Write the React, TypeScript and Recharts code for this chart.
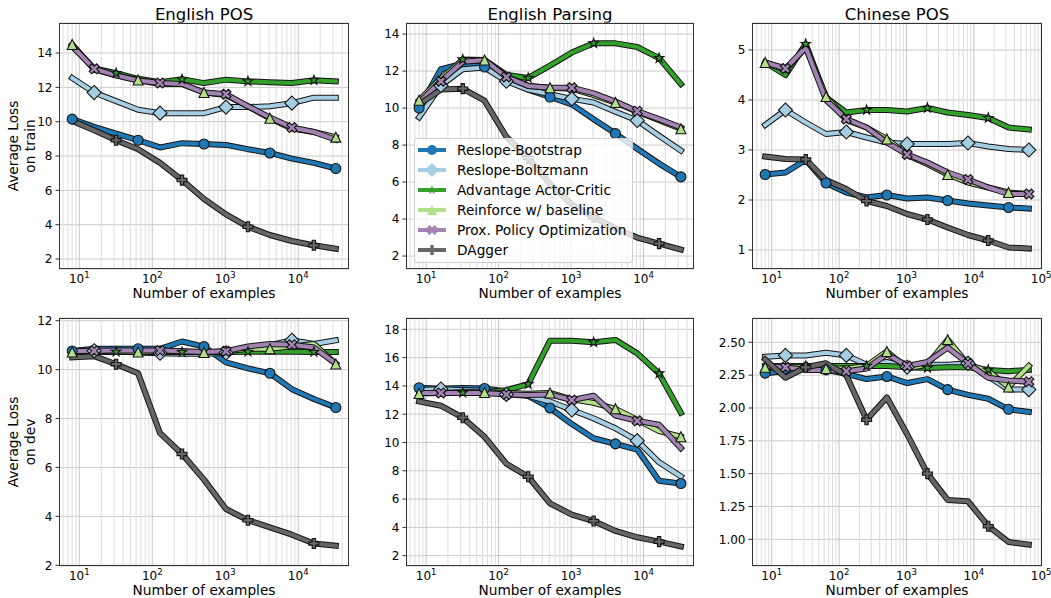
import React from 'react';
import { LineChart, Line, XAxis, YAxis, CartesianGrid, ReferenceLine } from 'recharts';

const FONT = '"DejaVu Sans", sans-serif';

// ---------------- data ----------------
const xEnglish = [8, 16, 32, 64, 128, 256, 512, 1024, 2048, 4096, 8192, 16384, 32768];
const xChinese = [8, 16, 32, 64, 128, 256, 512, 1024, 2048, 4096, 8192, 16384, 32768, 65536];

const seriesNames = [
  'Reslope-Bootstrap',
  'Reslope-Boltzmann',
  'Advantage Actor-Critic',
  'Reinforce w/ baseline',
  'Prox. Policy Optimization',
  'DAgger',
];

// English POS - train
const posTrainBoot = [10.15, 9.7, 9.3, 8.92, 8.5, 8.75, 8.7, 8.65, 8.4, 8.18, 7.85, 7.6, 7.27];
const posTrainBoltz = [12.55, 11.7, 11.2, 10.7, 10.5, 10.5, 10.5, 10.85, 10.85, 10.9, 11.08, 11.4, 11.4];
const posTrainA2c = [14.4, 13.1, 12.83, 12.5, 12.3, 12.47, 12.25, 12.45, 12.35, 12.3, 12.25, 12.42, 12.35];
const posTrainReinf = [14.5, 13.05, 12.7, 12.43, 12.2, 12.2, 11.7, 11.55, 10.9, 10.2, 9.6, 9.4, 9.1];
const posTrainPpo = [14.4, 13.08, 12.7, 12.4, 12.25, 12.2, 11.7, 11.6, 10.9, 10.25, 9.66, 9.4, 8.95];
const posTrainDagger = [10.05, 9.5, 8.92, 8.4, 7.6, 6.6, 5.5, 4.6, 3.88, 3.4, 3.05, 2.8, 2.6];

// English Parsing - train
const parseTrainBoot = [10.0, 12.1, 12.4, 12.22, 11.5, 11.0, 10.6, 10.2, 9.4, 8.62, 7.8, 7.0, 6.28];
const parseTrainBoltz = [9.5, 11.22, 12.1, 12.2, 11.45, 11.0, 10.75, 10.5, 10.3, 9.8, 9.33, 8.5, 7.7];
const parseTrainA2c = [10.4, 11.5, 12.63, 12.6, 11.8, 11.63, 12.3, 13.0, 13.5, 13.5, 13.3, 12.7, 11.3];
const parseTrainReinf = [10.42, 11.6, 12.6, 12.6, 11.7, 11.2, 11.1, 11.05, 10.7, 10.3, 9.8, 9.35, 8.88];
const parseTrainPpo = [10.3, 11.45, 12.5, 12.6, 11.68, 11.2, 11.1, 11.1, 10.8, 10.35, 9.83, 9.4, 8.95];
const parseTrainDagger = [10.2, 11.0, 11.05, 10.4, 8.45, 7.3, 5.9, 4.8, 4.1, 3.5, 3.0, 2.67, 2.35];

// Chinese POS - train
const zhTrainBoot = [2.51, 2.55, 2.8, 2.34, 2.15, 2.05, 2.1, 2.03, 2.05, 1.99, 1.93, 1.89, 1.85, 1.83];
const zhTrainBoltz = [3.5, 3.8, 3.55, 3.32, 3.36, 3.25, 3.15, 3.12, 3.12, 3.12, 3.14, 3.07, 3.02, 3.0];
const zhTrainA2c = [4.75, 4.5, 5.12, 4.05, 3.75, 3.8, 3.8, 3.77, 3.84, 3.75, 3.7, 3.64, 3.45, 3.41];
const zhTrainReinf = [4.75, 4.6, 5.05, 4.07, 3.6, 3.45, 3.22, 2.9, 2.72, 2.51, 2.35, 2.25, 2.15, 2.12];
const zhTrainPpo = [4.75, 4.63, 5.05, 4.0, 3.62, 3.45, 3.15, 2.91, 2.75, 2.55, 2.41, 2.25, 2.12, 2.12];
const zhTrainDagger = [2.87, 2.82, 2.81, 2.4, 2.22, 1.98, 1.88, 1.72, 1.61, 1.45, 1.3, 1.19, 1.05, 1.03];

// English POS - dev
const posDevBoot = [10.76, 10.85, 10.85, 10.85, 10.85, 11.15, 10.94, 10.3, 10.05, 9.85, 9.2, 8.8, 8.45];
const posDevBoltz = [10.75, 10.77, 10.75, 10.7, 10.67, 10.65, 10.65, 10.68, 10.85, 11.0, 11.2, 11.05, 11.2];
const posDevA2c = [10.72, 10.72, 10.73, 10.72, 10.72, 10.72, 10.72, 10.72, 10.73, 10.73, 10.73, 10.72, 10.72];
const posDevReinf = [10.72, 10.75, 10.75, 10.72, 10.75, 10.75, 10.7, 10.75, 10.85, 10.85, 10.95, 11.05, 10.23];
const posDevPpo = [10.75, 10.77, 10.78, 10.78, 10.78, 10.75, 10.72, 10.75, 10.95, 11.05, 11.02, 10.9, 10.25];
const posDevDagger = [10.5, 10.55, 10.22, 9.85, 7.4, 6.55, 5.5, 4.3, 3.84, 3.55, 3.25, 2.89, 2.8];

// English Parsing - dev
const parseDevBoot = [13.87, 13.8, 13.85, 13.82, 13.6, 13.3, 12.44, 11.3, 10.3, 9.9, 9.5, 7.3, 7.1];
const parseDevBoltz = [13.7, 13.78, 13.7, 13.65, 13.4, 13.3, 12.9, 12.3, 11.7, 11.0, 10.13, 8.6, 7.6];
const parseDevA2c = [13.5, 13.5, 13.52, 13.55, 13.7, 14.12, 17.2, 17.2, 17.08, 17.25, 16.3, 14.88, 12.1];
const parseDevReinf = [13.46, 13.5, 13.55, 13.53, 13.5, 13.45, 13.5, 13.05, 12.8, 12.38, 11.6, 10.8, 10.41];
const parseDevPpo = [13.5, 13.5, 13.5, 13.5, 13.4, 13.35, 13.4, 13.0, 13.3, 11.9, 11.53, 11.25, 9.6];
const parseDevDagger = [12.9, 12.6, 11.75, 10.4, 8.5, 7.58, 5.7, 4.9, 4.45, 3.75, 3.3, 2.99, 2.65];

// Chinese POS - dev
const zhDevBoot = [2.265, 2.28, 2.3, 2.29, 2.26, 2.22, 2.24, 2.19, 2.22, 2.14, 2.1, 2.07, 1.99, 1.97];
const zhDevBoltz = [2.39, 2.4, 2.4, 2.42, 2.4, 2.33, 2.35, 2.31, 2.33, 2.33, 2.34, 2.24, 2.14, 2.14];
const zhDevA2c = [2.32, 2.32, 2.32, 2.32, 2.32, 2.32, 2.32, 2.31, 2.305, 2.31, 2.31, 2.29, 2.28, 2.29];
const zhDevReinf = [2.31, 2.31, 2.31, 2.3, 2.3, 2.32, 2.43, 2.3, 2.33, 2.52, 2.33, 2.28, 2.16, 2.32];
const zhDevPpo = [2.32, 2.31, 2.29, 2.29, 2.28, 2.3, 2.41, 2.32, 2.35, 2.46, 2.34, 2.23, 2.21, 2.2];
const zhDevDagger = [2.37, 2.23, 2.31, 2.34, 2.25, 1.91, 2.08, 1.8, 1.5, 1.3, 1.29, 1.1, 0.98, 0.96];

// tick values
const ticksEvenTo14 = [2, 4, 6, 8, 10, 12, 14];
const ticksZhTrain = [1, 2, 3, 4, 5];
const ticksPosDev = [2, 4, 6, 8, 10, 12];
const ticksParseDev = [2, 4, 6, 8, 10, 12, 14, 16, 18];
const ticksZhDev = [1.0, 1.25, 1.5, 1.75, 2.0, 2.25, 2.5];
const xTicksEnglish = [10, 100, 1000, 10000];
const xTicksChinese = [10, 100, 1000, 10000, 100000];

// ---------------- styles ----------------
const seriesColors = ['#1f78b4', '#a6cee3', '#33a02c', '#b2df8a', '#a283b1', '#666666'];
const markerShapes = ['circle', 'diamond', 'star', 'triangle', 'xfill', 'plusfill'];
const markerOffsets = [0, 1, 2, 0, 1, 2];
const OUTLINE = '#141414';

const logDomain = (lo: number, hi: number): [number, number] => {
  const a = Math.log10(lo);
  const b = Math.log10(hi);
  const m = (b - a) * 0.05;
  return [Math.pow(10, a - m), Math.pow(10, b + m)];
};

function polyPath(pts: number[][], cx: number, cy: number) {
  return pts.map((p, i) => `${i ? 'L' : 'M'}${(cx + p[0]).toFixed(2)},${(cy + p[1]).toFixed(2)}`).join('') + 'Z';
}

function Marker({ shape, cx, cy, fill, stroke, sw, size }: any) {
  const s = size;
  if (shape === 'circle') return <circle cx={cx} cy={cy} r={s / 2} fill={fill} stroke={stroke} strokeWidth={sw} />;
  let pts: number[][] = [];
  if (shape === 'diamond') {
    const d = s * 0.7071;
    pts = [[0, -d], [d, 0], [0, d], [-d, 0]];
  } else if (shape === 'triangle') {
    const h = s / 2;
    pts = [[0, -h], [h, h], [-h, h]];
  } else if (shape === 'star') {
    const R = s / 2;
    for (let i = 0; i < 10; i++) {
      const r = i % 2 === 0 ? R : R * 0.381966;
      const a = -Math.PI / 2 + (i * Math.PI) / 5;
      pts.push([r * Math.cos(a), r * Math.sin(a)]);
    }
  } else if (shape === 'xfill') {
    const raw = [[-1, -2], [0, -1], [1, -2], [2, -1], [1, 0], [2, 1], [1, 2], [0, 1], [-1, 2], [-2, 1], [-1, 0], [-2, -1]];
    pts = raw.map((p) => [(p[0] / 4) * s, (p[1] / 4) * s]);
  } else if (shape === 'plusfill') {
    const raw = [[-1, -3], [1, -3], [1, -1], [3, -1], [3, 1], [1, 1], [1, 3], [-1, 3], [-1, 1], [-3, 1], [-3, -1], [-1, -1]];
    pts = raw.map((p) => [(p[0] / 6) * s, (p[1] / 6) * s]);
  }
  return <path d={polyPath(pts, cx, cy)} fill={fill} stroke={stroke} strokeWidth={sw} strokeLinejoin="miter" />;
}

const makeDot = (si: number) => (props: any) => {
  const { cx, cy, index } = props;
  const key = `dot-${si}-${index}`;
  if (cx == null || cy == null || index % 3 !== markerOffsets[si]) return <g key={key} />;
  return (
    <g key={key}>
      <Marker shape={markerShapes[si]} cx={cx} cy={cy} fill={seriesColors[si]} stroke={OUTLINE} sw={1.1} size={10} />
    </g>
  );
};

const XTick = (props: any) => {
  const { x, y, payload } = props;
  const e = Math.round(Math.log10(payload.value));
  return (
    <text x={x} y={y + 14} textAnchor="middle" fontFamily={FONT} fontSize={12} fill="#000">
      <tspan>10</tspan>
      <tspan dy={-5.5} fontSize={8.5}>{e}</tspan>
    </text>
  );
};

const makeYTick = (dec: number) => (props: any) => {
  const { x, y, payload } = props;
  return (
    <text x={x - 3} y={y} dy="0.36em" textAnchor="end" fontFamily={FONT} fontSize={12} fill="#000">
      {Number(payload.value).toFixed(dec)}
    </text>
  );
};

type PanelDef = {
  px: number; py: number; pw: number; ph: number;
  xs: number[]; series: number[][];
  yDomain: [number, number]; yTicks: number[]; yDec: number;
  xTicks: number[];
};

const L = 50, T = 10, R = 10, B = 30;

function Panel({ def }: { def: PanelDef }) {
  const { px, py, pw, ph, xs, series, yDomain, yTicks, yDec, xTicks } = def;
  const xDomain = logDomain(xs[0], xs[xs.length - 1]);
  const rows = xs.map((x, i) => {
    const r: any = { x };
    series.forEach((s, si) => { r[`s${si}`] = s[i]; });
    return r;
  });
  const minor: number[] = [];
  const major: number[] = [];
  for (let d = 0; d <= 5; d++) {
    for (let k = 1; k <= 9; k++) {
      const v = k * Math.pow(10, d);
      if (v > xDomain[0] && v < xDomain[1]) (k === 1 ? major : minor).push(v);
    }
  }
  return (
    <div style={{ position: 'absolute', left: px - L, top: py - T }}>
      <LineChart width={pw + L + R} height={ph + T + B} data={rows} margin={{ top: T, right: R, bottom: 0, left: 0 }}>
        <CartesianGrid vertical={false} stroke="#cbcbcb" strokeWidth={1} />
        {minor.map((v) => (
          <ReferenceLine key={`mn${v}`} x={v} stroke="#dcdcdc" strokeWidth={1} />
        ))}
        {major.map((v) => (
          <ReferenceLine key={`mj${v}`} x={v} stroke="#c6c6c6" strokeWidth={1} />
        ))}
        <XAxis
          dataKey="x" type="number" scale="log" domain={xDomain} allowDataOverflow ticks={xTicks} interval={0}
          height={B} tickSize={0} tickMargin={0} axisLine={false} tickLine={false} tick={XTick}
        />
        <YAxis
          type="number" domain={yDomain} allowDataOverflow ticks={yTicks} interval={0} width={L}
          tickSize={3.5} tickMargin={0} axisLine={false} tickLine={{ stroke: '#333', strokeWidth: 1 }} tick={makeYTick(yDec)}
        />
        {series.map((_, si) => [
          <Line key={`o${si}`} dataKey={`s${si}`} type="linear" stroke={OUTLINE} strokeWidth={6} dot={false} activeDot={false}
            isAnimationActive={false} strokeLinejoin="round" strokeLinecap="square" />,
          <Line key={`c${si}`} dataKey={`s${si}`} type="linear" stroke={seriesColors[si]} strokeWidth={4} dot={makeDot(si)} activeDot={false}
            isAnimationActive={false} strokeLinejoin="round" strokeLinecap="square" />,
        ])}
      </LineChart>
      <div style={{ position: 'absolute', left: L - 0.5, top: T - 0.5, width: pw, height: ph, border: '1px solid #333', boxSizing: 'border-box', pointerEvents: 'none' }} />
    </div>
  );
}

const cols = [
  { x: 59, w: 290 },
  { x: 406, w: 288 },
  { x: 752, w: 290 },
];
const rowsPos = [
  { y: 23, h: 246 },
  { y: 318, h: 248 },
];

const panelDefs: PanelDef[] = [
  { px: cols[0].x, py: rowsPos[0].y, pw: cols[0].w, ph: rowsPos[0].h, xs: xEnglish,
    series: [posTrainBoot, posTrainBoltz, posTrainA2c, posTrainReinf, posTrainPpo, posTrainDagger],
    yDomain: [1.42, 15.75], yTicks: ticksEvenTo14, yDec: 0, xTicks: xTicksEnglish },
  { px: cols[1].x, py: rowsPos[0].y, pw: cols[1].w, ph: rowsPos[0].h, xs: xEnglish,
    series: [parseTrainBoot, parseTrainBoltz, parseTrainA2c, parseTrainReinf, parseTrainPpo, parseTrainDagger],
    yDomain: [1.3, 14.6], yTicks: ticksEvenTo14, yDec: 0, xTicks: xTicksEnglish },
  { px: cols[2].x, py: rowsPos[0].y, pw: cols[2].w, ph: rowsPos[0].h, xs: xChinese,
    series: [zhTrainBoot, zhTrainBoltz, zhTrainA2c, zhTrainReinf, zhTrainPpo, zhTrainDagger],
    yDomain: [0.62, 5.54], yTicks: ticksZhTrain, yDec: 0, xTicks: xTicksChinese },
  { px: cols[0].x, py: rowsPos[1].y, pw: cols[0].w, ph: rowsPos[1].h, xs: xEnglish,
    series: [posDevBoot, posDevBoltz, posDevA2c, posDevReinf, posDevPpo, posDevDagger],
    yDomain: [1.97, 12.11], yTicks: ticksPosDev, yDec: 0, xTicks: xTicksEnglish },
  { px: cols[1].x, py: rowsPos[1].y, pw: cols[1].w, ph: rowsPos[1].h, xs: xEnglish,
    series: [parseDevBoot, parseDevBoltz, parseDevA2c, parseDevReinf, parseDevPpo, parseDevDagger],
    yDomain: [1.27, 18.8], yTicks: ticksParseDev, yDec: 0, xTicks: xTicksEnglish },
  { px: cols[2].x, py: rowsPos[1].y, pw: cols[2].w, ph: rowsPos[1].h, xs: xChinese,
    series: [zhDevBoot, zhDevBoltz, zhDevA2c, zhDevReinf, zhDevPpo, zhDevDagger],
    yDomain: [0.797, 2.685], yTicks: ticksZhDev, yDec: 2, xTicks: xTicksChinese },
];

const titles = ['English POS', 'English Parsing', 'Chinese POS'];

function LegendBox() {
  const left = 414, top = 138, w = 219, h = 125;
  return (
    <div style={{ position: 'absolute', left, top, width: w, height: h, background: 'rgba(255,255,255,0.8)', border: '1px solid #cfcfcf', borderRadius: 3, boxSizing: 'border-box' }}>
      <svg width={w} height={h} style={{ position: 'absolute', left: -1, top: -1 }}>
        {seriesNames.map((name, i) => {
          const cy = 12 + i * 20;
          return (
            <g key={name}>
              <line x1={4} x2={32} y1={cy} y2={cy} stroke={seriesColors[i]} strokeWidth={4} />
              <Marker shape={markerShapes[i]} cx={18} cy={cy} fill={seriesColors[i]} stroke="none" sw={0} size={10} />
              <text x={43} y={cy} dy="0.36em" fontFamily={FONT} fontSize={13.7} fill="#000">{name}</text>
            </g>
          );
        })}
      </svg>
    </div>
  );
}

export default function App() {
  return (
    <div style={{ position: 'absolute', left: 0, top: 0, width: 1051, height: 598, background: '#fff', overflow: 'hidden' }}>
      <svg width={1051} height={598} style={{ position: 'absolute', left: 0, top: 0 }}>
        {cols.map((c, i) => (
          <text key={`t${i}`} x={c.x + c.w / 2} y={19.5} textAnchor="middle" fontFamily={FONT} fontSize={16.5} fill="#000">{titles[i]}</text>
        ))}
        {cols.map((c, i) =>
          rowsPos.map((r, j) => (
            <text key={`xl${i}${j}`} x={c.x + c.w / 2} y={r.y + r.h + 29} textAnchor="middle" fontFamily={FONT} fontSize={13.7} fill="#000">Number of examples</text>
          ))
        )}
        {rowsPos.map((r, j) => {
          const cy = r.y + r.h / 2;
          return (
            <g key={`yl${j}`}>
              <text transform={`translate(18,${cy}) rotate(-90)`} textAnchor="middle" fontFamily={FONT} fontSize={13.7} fill="#000">Average Loss</text>
              <text transform={`translate(34.5,${cy}) rotate(-90)`} textAnchor="middle" fontFamily={FONT} fontSize={13.7} fill="#000">{j === 0 ? 'on train' : 'on dev'}</text>
            </g>
          );
        })}
      </svg>
      {panelDefs.map((d, i) => <Panel key={i} def={d} />)}
      <LegendBox />
    </div>
  );
}
